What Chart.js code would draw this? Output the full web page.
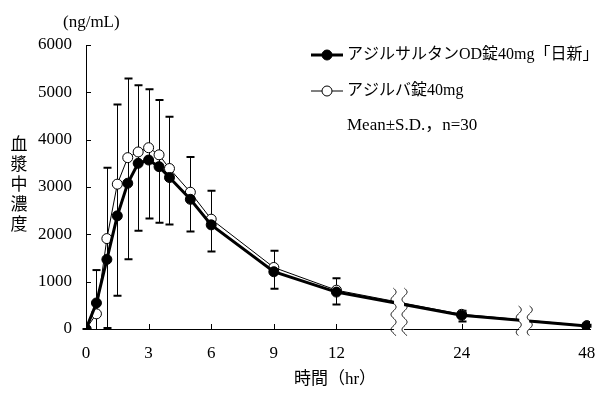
<!DOCTYPE html>
<html>
<head>
<meta charset="utf-8">
<script src="https://cdn.jsdelivr.net/npm/chart.js@4.4.0/dist/chart.umd.min.js"></script>
<style>
  body { margin: 0; background: #fff; }
  #wrap { width: 611px; height: 398px; }
</style>
</head>
<body>
<div id="wrap"><canvas id="pkChart" width="611" height="398"></canvas></div>
<script>
// 時間 (hr) と平均値・標準偏差
const hours = [0, 0.5, 1, 1.5, 2, 2.5, 3, 3.5, 4, 5, 6, 9, 12, 24, 48];
const odMean = [0, 550, 1470, 2390, 3080, 3500, 3570, 3430, 3200, 2740, 2200, 1210, 780, 290, 65];
const odSD = [0, 620, 1450, 1690, 1605, 1425, 1235, 1185, 990, 680, 565, 360, 260, 130, 20];
const azMean = [0, 320, 1910, 3060, 3620, 3740, 3830, 3680, 3390, 2890, 2320, 1300, 820, 310, 70];
const azSD = [0, 925, 1495, 1685, 1670, 1410, 1235, 1160, 1095, 745, 600, 355, 250, 75, 20];
const tickHours = [0, 3, 6, 9, 12, 24, 48];
const breakHours = [18, 36];
const seriesNames = ["アジルサルタンOD錠40mg「日新」", "アジルバ錠40mg"];

const FONT = '"Liberation Serif", "Noto Sans CJK JP", serif';

// 横軸は途中で省略（12-24hrは1/2、24-48hrは1/4に圧縮）
const toAxis = (h) => {
  if (h <= 12) return h;
  if (h <= 24) return 12 + (h - 12) / 2;
  return 18 + (h - 24) / 4;
};

const interp = (arr, h) => {
  for (let i = 1; i < hours.length; i++) {
    if (h <= hours[i]) {
      const a = toAxis(hours[i - 1]), b = toAxis(hours[i]);
      const f = (toAxis(h) - a) / (b - a);
      return arr[i - 1] + (arr[i] - arr[i - 1]) * f;
    }
  }
  return arr[arr.length - 1];
};

// エラーバー
const errorBars = {
  id: "errorBars",
  beforeDatasetsDraw(chart) {
    const { ctx, scales: { x, y } } = chart;
    ctx.save();
    ctx.strokeStyle = "#000";
    hours.forEach((h, i) => {
      const px = Math.round(x.getPixelForValue(toAxis(h))) + 0.5;
      const topV = azMean[i] + azSD[i];
      const lowV = odMean[i] - odSD[i];
      const yTop = y.getPixelForValue(topV);
      const yBot = y.getPixelForValue(Math.max(0, lowV));
      ctx.lineWidth = 1;
      ctx.beginPath();
      ctx.moveTo(px, yTop);
      ctx.lineTo(px, yBot);
      ctx.stroke();
      ctx.lineWidth = 2;
      ctx.beginPath();
      ctx.moveTo(px - 4, yTop);
      ctx.lineTo(px + 4, yTop);
      if (lowV >= 0) {
        ctx.moveTo(px - 4, yBot);
        ctx.lineTo(px + 4, yBot);
      }
      ctx.stroke();
    });
    ctx.restore();
  },
};

// 内向き目盛り、軸の省略記号、凡例、軸ラベル
const decorations = {
  id: "decorations",
  afterDatasetsDraw(chart) {
    const { ctx, chartArea, scales: { x, y } } = chart;
    ctx.save();
    ctx.strokeStyle = "#000";
    ctx.lineWidth = 1;

    // 目盛り
    ctx.beginPath();
    y.ticks.forEach((t) => {
      const py = Math.round(y.getPixelForValue(t.value)) + 0.5;
      ctx.moveTo(chartArea.left, py);
      ctx.lineTo(chartArea.left + 5, py);
    });
    tickHours.forEach((h) => {
      const px = Math.round(x.getPixelForValue(toAxis(h))) + 0.5;
      ctx.moveTo(px, chartArea.bottom);
      ctx.lineTo(px, chartArea.bottom - 5);
    });
    ctx.stroke();

    // 省略記号
    breakHours.forEach((h) => {
      const cx = x.getPixelForValue(toAxis(h));
      const lineY = y.getPixelForValue(Math.max(interp(odMean, h), interp(azMean, h)));
      const top = lineY - 14;
      const bot = chartArea.bottom + 7;
      ctx.fillStyle = "#fff";
      ctx.fillRect(cx - 5, top, 10, bot - top);
      [-5.5, 5.5].forEach((dx) => {
        ctx.beginPath();
        for (let yy = top; yy <= bot; yy += 0.5) {
          const xx = cx + dx + 2.5 * Math.sin((2 * Math.PI * (yy - top)) / 15);
          if (yy === top) ctx.moveTo(xx, yy);
          else ctx.lineTo(xx, yy);
        }
        ctx.stroke();
      });
    });

    // 凡例
    ctx.fillStyle = "#000";
    ctx.font = "16px " + FONT;
    ctx.textBaseline = "middle";
    ctx.textAlign = "left";
    [55, 91].forEach((ly, i) => {
      ctx.lineWidth = i === 0 ? 3 : 1;
      ctx.beginPath();
      ctx.moveTo(311, ly);
      ctx.lineTo(343, ly);
      ctx.stroke();
      ctx.beginPath();
      ctx.arc(327, ly, 5, 0, Math.PI * 2);
      ctx.fillStyle = i === 0 ? "#000" : "#fff";
      ctx.fill();
      ctx.lineWidth = 1;
      ctx.stroke();
      ctx.fillStyle = "#000";
      ctx.fillText(seriesNames[i], 347, ly);
    });
    ctx.font = "17px " + FONT;
    ctx.fillText("Mean±S.D.，n=30", 347, 126);

    // 軸ラベル
    ctx.font = "17px " + FONT;
    ctx.fillText("(ng/mL)", 63, 23);
    ctx.textAlign = "center";
    ctx.fillText("時間（hr）", 335, 380);
    ["血", "漿", "中", "濃", "度"].forEach((ch, i) => {
      ctx.fillText(ch, 19, 146 + i * 20);
    });
    ctx.restore();
  },
};

const ctx = document.getElementById("pkChart").getContext("2d");

new Chart(ctx, {
  type: "line",
  data: {
    datasets: [
      {
        label: seriesNames[0],
        data: hours.map((h, i) => ({ x: toAxis(h), y: odMean[i] })),
        borderColor: "#000",
        borderWidth: 3,
        pointRadius: 5,
        pointBackgroundColor: "#000",
        pointBorderColor: "#000",
        pointBorderWidth: 1,
        tension: 0,
      },
      {
        label: seriesNames[1],
        data: hours.map((h, i) => ({ x: toAxis(h), y: azMean[i] })),
        borderColor: "#000",
        borderWidth: 1,
        pointRadius: 5,
        pointBackgroundColor: "#fff",
        pointBorderColor: "#000",
        pointBorderWidth: 1,
        tension: 0,
      },
    ],
  },
  options: {
    responsive: false,
    animation: false,
    layout: { padding: { top: 45, right: 21, left: 0, bottom: 0 } },
    plugins: {
      legend: { display: false },
      tooltip: { enabled: false },
    },
    scales: {
      x: {
        type: "linear",
        min: 0,
        max: 24.15,
        afterBuildTicks: (scale) => {
          scale.ticks = tickHours.map((h) => ({ value: toAxis(h) }));
        },
        afterFit: (scale) => {
          scale.height = 69;
        },
        grid: { display: false, drawTicks: false },
        border: { display: true, color: "#000", width: 1 },
        ticks: {
          autoSkip: false,
          maxRotation: 0,
          padding: 14,
          color: "#000",
          font: { family: FONT, size: 17 },
          callback: (value, index) => String(tickHours[index]),
        },
      },
      y: {
        min: 0,
        max: 6000,
        afterFit: (scale) => {
          scale.width = 86;
        },
        grid: { display: false, drawTicks: false },
        border: { display: true, color: "#000", width: 1 },
        ticks: {
          stepSize: 1000,
          padding: 14,
          color: "#000",
          font: { family: FONT, size: 17 },
          callback: (value) => String(value),
        },
      },
    },
  },
  plugins: [errorBars, decorations],
});
</script>
</body>
</html>
